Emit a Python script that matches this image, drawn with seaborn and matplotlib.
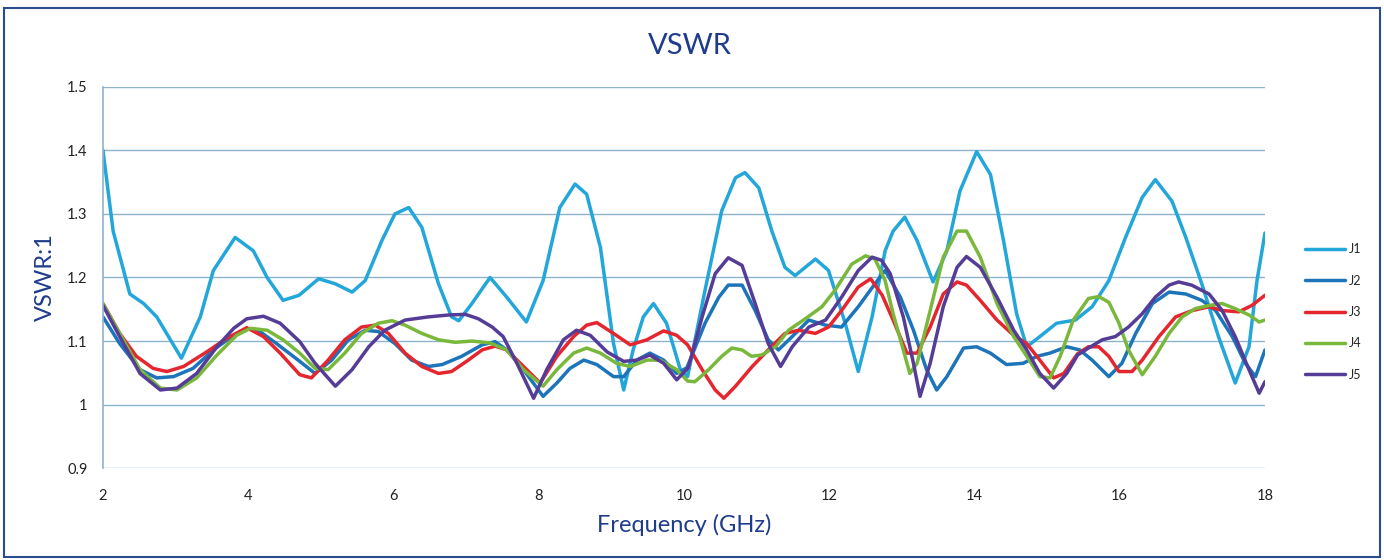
import numpy as np
import pandas as pd
import matplotlib.pyplot as plt
import seaborn as sns
from matplotlib.patches import Rectangle

# values (frequency in GHz, VSWR)
j1_freq = [2.00, 2.14, 2.37, 2.56, 2.74, 3.08, 3.34, 3.52, 3.82, 4.07,
           4.26, 4.48, 4.70, 4.97, 5.20, 5.43, 5.61, 5.84, 6.02, 6.21,
           6.39, 6.62, 6.80, 6.90, 7.08, 7.33, 7.56, 7.83, 8.06, 8.29,
           8.50, 8.66, 8.85, 9.03, 9.17, 9.30, 9.44, 9.58, 9.76, 9.95,
           10.05, 10.29, 10.52, 10.71, 10.84, 11.03, 11.21, 11.39, 11.53, 11.81,
           11.99, 12.22, 12.40, 12.59, 12.77, 12.88, 13.04, 13.21, 13.43, 13.62,
           13.80, 14.03, 14.22, 14.40, 14.58, 14.72, 14.90, 15.13, 15.39, 15.62,
           15.85, 16.08, 16.31, 16.49, 16.72, 16.91, 17.13, 17.36, 17.59, 17.78,
           17.89, 18.00]
j1_vswr = [1.400, 1.273, 1.174, 1.159, 1.138, 1.073, 1.138, 1.211, 1.263, 1.242,
           1.200, 1.164, 1.172, 1.198, 1.190, 1.177, 1.195, 1.258, 1.300, 1.310,
           1.279, 1.190, 1.138, 1.132, 1.159, 1.200, 1.169, 1.130, 1.195, 1.310,
           1.347, 1.331, 1.247, 1.096, 1.023, 1.086, 1.138, 1.159, 1.128, 1.055,
           1.044, 1.180, 1.305, 1.357, 1.365, 1.341, 1.273, 1.216, 1.203, 1.229,
           1.211, 1.128, 1.052, 1.138, 1.242, 1.273, 1.295, 1.258, 1.193, 1.242,
           1.336, 1.398, 1.362, 1.258, 1.143, 1.091, 1.107, 1.128, 1.133, 1.154,
           1.195, 1.263, 1.326, 1.354, 1.320, 1.263, 1.190, 1.107, 1.034, 1.091,
           1.195, 1.270]

j2_freq = [2.00, 2.23, 2.51, 2.74, 2.97, 3.24, 3.52, 3.80, 3.98, 4.16,
           4.39, 4.71, 4.92, 5.15, 5.38, 5.61, 5.79, 6.02, 6.25, 6.48,
           6.67, 6.94, 7.22, 7.40, 7.56, 7.79, 8.06, 8.25, 8.43, 8.62,
           8.80, 9.03, 9.17, 9.35, 9.53, 9.72, 9.90, 10.04, 10.29, 10.48,
           10.61, 10.80, 10.98, 11.16, 11.30, 11.49, 11.72, 11.95, 12.17, 12.40,
           12.63, 12.77, 12.98, 13.16, 13.34, 13.48, 13.62, 13.85, 14.03, 14.22,
           14.44, 14.67, 14.86, 15.04, 15.27, 15.45, 15.62, 15.85, 16.03, 16.22,
           16.45, 16.68, 16.91, 17.13, 17.32, 17.55, 17.73, 17.87, 18.00]
j2_vswr = [1.138, 1.096, 1.055, 1.042, 1.044, 1.057, 1.086, 1.109, 1.120, 1.115,
           1.096, 1.068, 1.049, 1.070, 1.102, 1.117, 1.115, 1.096, 1.070, 1.060,
           1.063, 1.076, 1.094, 1.099, 1.086, 1.055, 1.013, 1.034, 1.057, 1.070,
           1.063, 1.044, 1.044, 1.070, 1.081, 1.070, 1.049, 1.058, 1.128, 1.169,
           1.188, 1.188, 1.148, 1.102, 1.086, 1.107, 1.133, 1.125, 1.122, 1.154,
           1.190, 1.211, 1.169, 1.117, 1.055, 1.023, 1.044, 1.089, 1.091, 1.081,
           1.063, 1.065, 1.076, 1.081, 1.091, 1.086, 1.070, 1.044, 1.065, 1.112,
           1.159, 1.177, 1.174, 1.164, 1.148, 1.107, 1.065, 1.044, 1.086]

j3_freq = [2.00, 2.23, 2.46, 2.69, 2.88, 3.11, 3.43, 3.70, 3.98, 4.21,
           4.44, 4.71, 4.87, 5.10, 5.33, 5.56, 5.75, 5.93, 6.16, 6.39,
           6.62, 6.80, 7.03, 7.22, 7.40, 7.56, 7.79, 8.02, 8.25, 8.48,
           8.66, 8.80, 9.03, 9.26, 9.49, 9.72, 9.90, 10.05, 10.25, 10.43,
           10.55, 10.71, 10.94, 11.16, 11.39, 11.58, 11.81, 11.99, 12.17, 12.40,
           12.57, 12.73, 12.88, 13.07, 13.21, 13.39, 13.57, 13.76, 13.89, 14.08,
           14.31, 14.54, 14.72, 14.90, 15.09, 15.23, 15.42, 15.57, 15.71, 15.85,
           15.99, 16.17, 16.31, 16.54, 16.77, 17.00, 17.23, 17.41, 17.64, 17.82,
           18.00]
j3_vswr = [1.159, 1.112, 1.076, 1.057, 1.052, 1.060, 1.083, 1.104, 1.121, 1.107,
           1.081, 1.047, 1.042, 1.070, 1.102, 1.122, 1.125, 1.112, 1.081, 1.060,
           1.049, 1.052, 1.070, 1.086, 1.092, 1.086, 1.060, 1.034, 1.076, 1.107,
           1.125, 1.129, 1.112, 1.094, 1.102, 1.116, 1.109, 1.094, 1.055, 1.023,
           1.010, 1.029, 1.060, 1.086, 1.112, 1.117, 1.112, 1.122, 1.148, 1.185,
           1.198, 1.172, 1.133, 1.081, 1.081, 1.122, 1.174, 1.193, 1.188, 1.164,
           1.133, 1.109, 1.096, 1.070, 1.042, 1.049, 1.080, 1.091, 1.091, 1.076,
           1.052, 1.052, 1.070, 1.107, 1.138, 1.148, 1.154, 1.148, 1.146, 1.156,
           1.172]

j4_freq = [2.00, 2.23, 2.51, 2.79, 3.02, 3.29, 3.57, 3.84, 4.03, 4.26,
           4.48, 4.71, 4.92, 5.10, 5.33, 5.56, 5.79, 5.98, 6.16, 6.39,
           6.62, 6.85, 7.08, 7.33, 7.56, 7.79, 8.06, 8.25, 8.48, 8.66,
           8.85, 9.07, 9.26, 9.49, 9.67, 9.90, 10.05, 10.15, 10.34, 10.52,
           10.66, 10.80, 10.93, 11.07, 11.26, 11.44, 11.67, 11.90, 12.08, 12.31,
           12.50, 12.63, 12.77, 12.88, 13.02, 13.11, 13.21, 13.39, 13.57, 13.76,
           13.89, 14.08, 14.31, 14.54, 14.72, 14.90, 15.04, 15.18, 15.36, 15.57,
           15.71, 15.85, 15.99, 16.12, 16.31, 16.49, 16.68, 16.86, 17.04, 17.23,
           17.41, 17.59, 17.78, 17.92, 18.00]
j4_vswr = [1.159, 1.112, 1.055, 1.026, 1.023, 1.042, 1.078, 1.109, 1.120, 1.117,
           1.102, 1.081, 1.057, 1.055, 1.081, 1.112, 1.128, 1.132, 1.125, 1.112,
           1.102, 1.098, 1.100, 1.097, 1.086, 1.055, 1.029, 1.055, 1.081, 1.089,
           1.081, 1.065, 1.060, 1.070, 1.070, 1.055, 1.037, 1.036, 1.055, 1.076,
           1.089, 1.086, 1.076, 1.078, 1.091, 1.117, 1.135, 1.154, 1.180, 1.221,
           1.234, 1.229, 1.195, 1.143, 1.086, 1.049, 1.065, 1.148, 1.232, 1.273,
           1.273, 1.232, 1.159, 1.107, 1.076, 1.044, 1.042, 1.076, 1.133, 1.167,
           1.170, 1.161, 1.128, 1.086, 1.047, 1.076, 1.112, 1.138, 1.151, 1.156,
           1.159, 1.151, 1.141, 1.130, 1.133]

j5_freq = [2.00, 2.23, 2.51, 2.79, 3.02, 3.29, 3.57, 3.80, 3.98, 4.21,
           4.44, 4.71, 4.92, 5.20, 5.43, 5.66, 5.88, 6.16, 6.48, 6.76,
           6.99, 7.17, 7.36, 7.51, 7.70, 7.93, 8.11, 8.34, 8.52, 8.71,
           8.94, 9.17, 9.35, 9.53, 9.72, 9.90, 10.06, 10.25, 10.43, 10.61,
           10.80, 10.98, 11.16, 11.33, 11.49, 11.72, 11.95, 12.17, 12.40, 12.59,
           12.72, 12.84, 13.02, 13.16, 13.25, 13.39, 13.57, 13.76, 13.89, 14.08,
           14.31, 14.54, 14.72, 14.90, 15.09, 15.27, 15.42, 15.57, 15.76, 15.94,
           16.12, 16.31, 16.49, 16.68, 16.81, 16.99, 17.23, 17.41, 17.59, 17.78,
           17.92, 18.00]
j5_vswr = [1.156, 1.107, 1.049, 1.023, 1.026, 1.049, 1.091, 1.120, 1.135, 1.139,
           1.128, 1.099, 1.065, 1.029, 1.055, 1.091, 1.117, 1.133, 1.138, 1.141,
           1.142, 1.135, 1.122, 1.107, 1.065, 1.010, 1.055, 1.102, 1.117, 1.109,
           1.083, 1.068, 1.070, 1.078, 1.065, 1.039, 1.058, 1.138, 1.206, 1.231,
           1.219, 1.159, 1.096, 1.060, 1.091, 1.122, 1.133, 1.169, 1.211, 1.232,
           1.227, 1.206, 1.138, 1.065, 1.013, 1.065, 1.154, 1.216, 1.233, 1.216,
           1.169, 1.117, 1.086, 1.049, 1.026, 1.049, 1.078, 1.089, 1.102, 1.107,
           1.122, 1.143, 1.169, 1.188, 1.193, 1.188, 1.174, 1.148, 1.107, 1.055,
           1.018, 1.036]

series_names = ["J1", "J2", "J3", "J4", "J5"]
series_colors = ["#23A6DA", "#1C74BA", "#E5262E", "#7AB83C", "#553C97"]
y_ticks = [0.9, 1.0, 1.1, 1.2, 1.3, 1.4, 1.5]
y_tick_labels = ["0.9", "1", "1.1", "1.2", "1.3", "1.4", "1.5"]
x_ticks = [2, 4, 6, 8, 10, 12, 14, 16, 18]

freqs = [j1_freq, j2_freq, j3_freq, j4_freq, j5_freq]
vswrs = [j1_vswr, j2_vswr, j3_vswr, j4_vswr, j5_vswr]
df = pd.concat([pd.DataFrame({"freq": f, "vswr": v, "port": n})
                for f, v, n in zip(freqs, vswrs, series_names)], ignore_index=True)

sns.set_theme(style="white")
plt.rcParams["font.family"] = ["Lato", "DejaVu Sans"]

title_color = "#1F3C8C"
fig = plt.figure(figsize=(13.84, 5.6), dpi=100)
ax = fig.add_axes([0.0744, 0.164, 0.8396, 0.681])

sns.lineplot(data=df, x="freq", y="vswr", hue="port", palette=series_colors,
             estimator=None, sort=False, linewidth=2.5, ax=ax,
             solid_joinstyle="round", solid_capstyle="round")

ax.set_xlim(2, 18)
ax.set_ylim(0.9, 1.5)
ax.set_xticks(x_ticks)
ax.set_yticks(y_ticks)
ax.set_yticklabels(y_tick_labels)
ax.tick_params(axis="both", labelsize=10.5, colors="#222222", length=0)
ax.tick_params(axis="x", pad=15)
ax.tick_params(axis="y", pad=11)
ax.grid(axis="y", color="#8EB3CC", linewidth=1.0)
ax.grid(axis="x", visible=False)
for side in ["top", "right", "bottom"]:
    ax.spines[side].set_visible(False)
ax.spines["left"].set_color("#8EB3CC")
ax.spines["left"].set_linewidth(1.2)

ax.set_xlabel("Frequency (GHz)", fontsize=17, color=title_color, labelpad=8)
ax.set_ylabel("VSWR:1", fontsize=17, color=title_color, labelpad=8)
fig.text(0.4985, 0.918, "VSWR", ha="center", va="center", fontsize=21, color=title_color)

ax.legend(title=None, frameon=False, loc="center left",
          bbox_to_anchor=(0.935, 0.443), bbox_transform=fig.transFigure,
          fontsize=9, handlelength=3.2, labelspacing=1.55, handletextpad=0.3)

# outer frame of the chart
fig.add_artist(Rectangle((0.003, 0.006), 0.994, 0.98, transform=fig.transFigure,
                         fill=False, edgecolor="#2B4C8C", linewidth=1.5))

plt.savefig("out.png", dpi=100)
